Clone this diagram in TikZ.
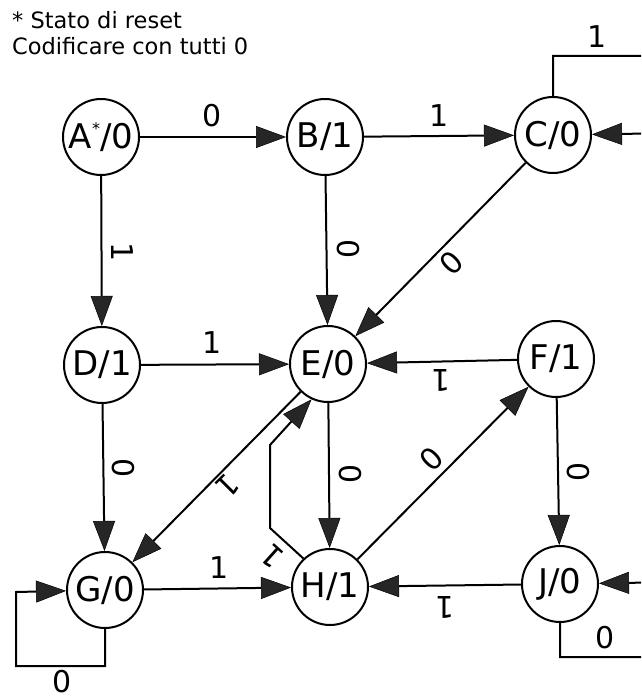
\documentclass[tikz,border=0pt]{standalone}
\usepackage{fontspec}
\setmainfont{DejaVu Sans}
\usetikzlibrary{arrows.meta}
\begin{document}
\begin{tikzpicture}[x=1pt,y=-1pt,
  state/.style={circle,draw,line width=2pt,minimum size=76pt,inner sep=0pt,
    font=\fontsize{34}{34}\selectfont},
  lbl/.style={font=\fontsize{30}{30}\selectfont,inner sep=0pt},
  ttl/.style={anchor=base west,inner sep=0pt,font=\fontsize{22.5}{26}\selectfont},
  edge/.style={line width=2pt,
    -{Triangle[length=30pt,width=22pt,line width=0.5pt,fill=black!85]}},
  plain/.style={line width=2pt}]
\useasboundingbox (0,0) rectangle (641,698);
\clip (0,0) rectangle (641,698);

% title
\node[ttl] (title1) at (12,29) {* Stato di reset};
\node[ttl] (title2) at (12,55) {Codificare con tutti 0};

% states
\node[state] (A) at (101,137) {A\raisebox{0.42em}{\fontsize{16}{16}\selectfont *}/0};
\node[state] (B) at (325,137) {B/1};
\node[state] (C) at (553,135) {C/0};
\node[state] (D) at (102,365) {D/1};
\node[state] (E) at (328,364) {E/0};
\node[state] (F) at (556,359) {F/1};
\node[state] (G) at (105,590) {G/0};
\node[state] (H) at (330,587) {H/1};
\node[state] (J) at (560,584) {J/0};

% helper coordinates
\coordinate (c2) at (680,56);
\coordinate (c3) at (680,133);
\coordinate (he1) at (270,528);
\coordinate (he2) at (270,445);
\coordinate (g1) at (105,666);
\coordinate (g2) at (16,666);
\coordinate (g3) at (16,592);
\coordinate (j1) at (560,657);
\coordinate (j2) at (680,657);
\coordinate (j3) at (680,582);

% connectors
\draw[edge] (A) -- (B);
\draw[edge] (B) -- (C);
\draw[edge] (C.north) |- (c2) -- (c3) -- (C);
\draw[edge] (A) -- (D);
\draw[edge] (B) -- (E);
\draw[edge] (C) -- (E);
\draw[edge] (D) -- (E);
\draw[edge] (F) -- (E);
\draw[edge] (E) -- (G);
\draw[edge] (E) -- (H);
\draw[edge] (H.133) -- (he1) -- (he2) -- (E.245);
\draw[edge] (H) -- (F);
\draw[edge] (F) -- (J);
\draw[edge] (D) -- (G);
\draw[edge] (G) -- (H);
\draw[edge] (J) -- (H);
\draw[edge] (G.south) -- (g1) -- (g2) -- (g3) -- (G);
\draw[edge] (J.south) -- (j1) -- (j2) -- (j3) -- (J);

% labels
\node[lbl] (lAB) at (212,116) {0};
\node[lbl] (lBC) at (439,116) {1};
\node[lbl] (lCC) at (597,37) {1};
\node[lbl,rotate=-90] (lAD) at (122,252) {1};
\node[lbl,rotate=-90] (lBE) at (348,249) {0};
\node[lbl,rotate=-135] (lCE) at (451,263) {0};
\node[lbl] (lDE) at (212,343) {1};
\node[lbl,rotate=180] (lFE) at (441,380) {1};
\node[lbl,rotate=-90] (lDG) at (123,468) {0};
\node[lbl,rotate=-135] (lEG) at (227,486) {1};
\node[lbl,rotate=-90] (lEH) at (350,474) {0};
\node[lbl,rotate=45] (lHF) at (432,459) {0};
\node[lbl,rotate=138] (lHE) at (272,556) {1};
\node[lbl,rotate=-90] (lFJ) at (578,472) {0};
\node[lbl] (lGH) at (219,568) {1};
\node[lbl,rotate=180] (lJH) at (445,607) {1};
\node[lbl] (lJJ) at (605,638) {0};
\node[lbl,anchor=north] (lGG) at (62,670) {0};
\end{tikzpicture}
\end{document}
